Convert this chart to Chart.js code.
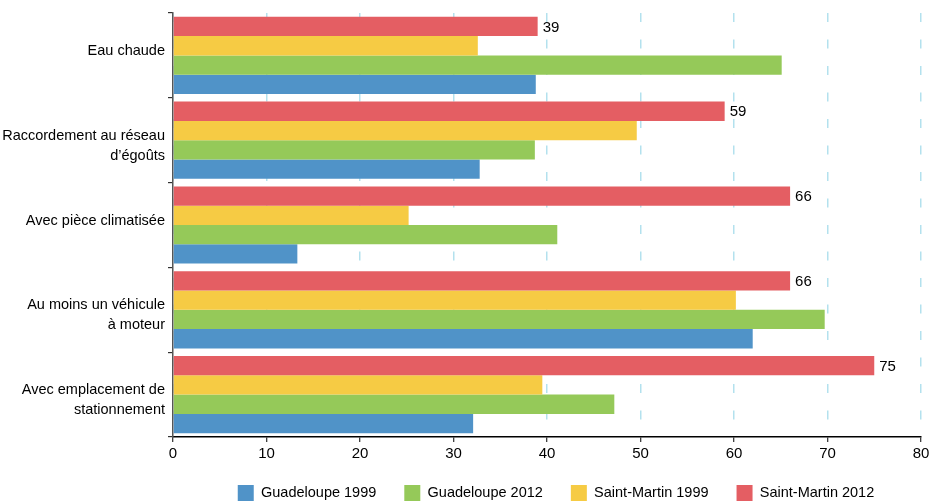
<!DOCTYPE html>
<html>
<head>
<meta charset="utf-8">
<script src="https://cdn.jsdelivr.net/npm/chart.js@4/dist/chart.umd.min.js"></script>
<style>
  html, body { margin: 0; padding: 0; background: #fff; }
  #wrap { width: 941px; height: 503px; position: relative; }
</style>
</head>
<body>
<div id="wrap"><canvas id="chart"></canvas></div>
<script>
// Categories (multi-line labels as arrays)
const categories = [
  'Eau chaude',
  ['Raccordement au réseau', 'd’égoûts'],
  'Avec pièce climatisée',
  ['Au moins un véhicule', 'à moteur'],
  ['Avec emplacement de', 'stationnement']
];

// Series values (%)
const guadeloupe1999 = [38.8, 32.8, 13.3, 62.0, 32.1];
const guadeloupe2012 = [65.1, 38.7, 41.1, 69.7, 47.2];
const saintMartin1999 = [32.6, 49.6, 25.2, 60.2, 39.5];
const saintMartin2012 = [39, 59, 66, 66, 75];

// X axis tick labels
const xTicks = [0, 10, 20, 30, 40, 50, 60, 70, 80];

const FONT = '"Liberation Sans", Arial, Helvetica, sans-serif';

// Two-line labels get a leading blank line so that their first line
// sits on the category centre, like the single-line ones.
const axisLabels = categories.map(c => Array.isArray(c) ? [''].concat(c) : c);

// Value labels printed at the end of the Saint-Martin 2012 bars
const endLabels = {
  id: 'endLabels',
  afterDatasetsDraw(chart) {
    const ctx = chart.ctx;
    chart.data.datasets.forEach((ds, i) => {
      if (!ds.showValues) return;
      const meta = chart.getDatasetMeta(i);
      meta.data.forEach((bar, j) => {
        ctx.save();
        ctx.font = '15px ' + FONT;
        ctx.fillStyle = '#000';
        ctx.textAlign = 'left';
        ctx.textBaseline = 'middle';
        ctx.fillText(String(ds.data[j]), bar.x + 5, bar.y + 1);
        ctx.restore();
      });
    });
  }
};

// Center the legend under the plotting area and pull it a little closer
const legendUnderPlot = {
  id: 'legendUnderPlot',
  afterLayout(chart) {
    const lg = chart.legend;
    if (!lg) return;
    const shift = (chart.chartArea.left + chart.chartArea.right) / 2 - (lg.left + lg.right) / 2 + 9;
    lg.left += shift;
    lg.right += shift;
    lg.top -= 10;
    lg.bottom -= 10;
  }
};

new Chart(document.getElementById('chart'), {
  type: 'bar',
  data: {
    labels: axisLabels,
    datasets: [
      { label: 'Saint-Martin 2012', data: saintMartin2012, backgroundColor: '#E45E63', showValues: true },
      { label: 'Saint-Martin 1999', data: saintMartin1999, backgroundColor: '#F6CB44' },
      { label: 'Guadeloupe 2012', data: guadeloupe2012, backgroundColor: '#95C959' },
      { label: 'Guadeloupe 1999', data: guadeloupe1999, backgroundColor: '#5093C8' }
    ]
  },
  options: {
    indexAxis: 'y',
    responsive: true,
    maintainAspectRatio: false,
    animation: false,
    devicePixelRatio: 1,
    datasets: { bar: { categoryPercentage: 0.91, barPercentage: 1.0, borderWidth: 0 } },
    layout: { padding: { top: 13, right: 20, left: 0, bottom: -18 } },
    scales: {
      x: {
        type: 'linear',
        min: 0,
        max: 80,
        afterBuildTicks(scale) { scale.ticks = xTicks.map(v => ({ value: v })); },
        afterFit(scale) {
          scale.height = 30;
          scale.paddingLeft = 0;
          scale.paddingRight = 0;
        },
        grid: {
          color: '#B3E1EE',
          lineWidth: 1.5,
          drawTicks: true,
          tickLength: 5,
          tickColor: '#000',
          tickWidth: 1,
          tickBorderDash: []
        },
        border: { display: true, color: '#000', width: 1.5, dash: [9, 17.5] },
        ticks: {
          color: '#000',
          font: { family: FONT, size: 15 },
          padding: 3,
          maxRotation: 0
        }
      },
      y: {
        type: 'category',
        offset: true,
        afterFit(scale) {
          scale.width = 173;
          scale.paddingTop = 0;
          scale.paddingBottom = 0;
        },
        grid: {
          offset: true,
          drawOnChartArea: false,
          drawTicks: true,
          tickLength: 5,
          color: '#333',
          tickColor: '#333',
          lineWidth: 1.2
        },
        border: { display: true, color: '#555', width: 1.5 },
        ticks: {
          color: '#000',
          font: { family: FONT, size: 14.5, lineHeight: 1.38 },
          padding: 3,
          labelOffset: -4.5,
          autoSkip: false
        }
      }
    },
    plugins: {
      legend: {
        position: 'bottom',
        reverse: true,
        labels: {
          boxWidth: 16,
          boxHeight: 16,
          padding: 28,
          color: '#000',
          font: { family: FONT, size: 14.5 }
        }
      },
      tooltip: { enabled: false }
    }
  },
  plugins: [endLabels, legendUnderPlot]
});
</script>
</body>
</html>
